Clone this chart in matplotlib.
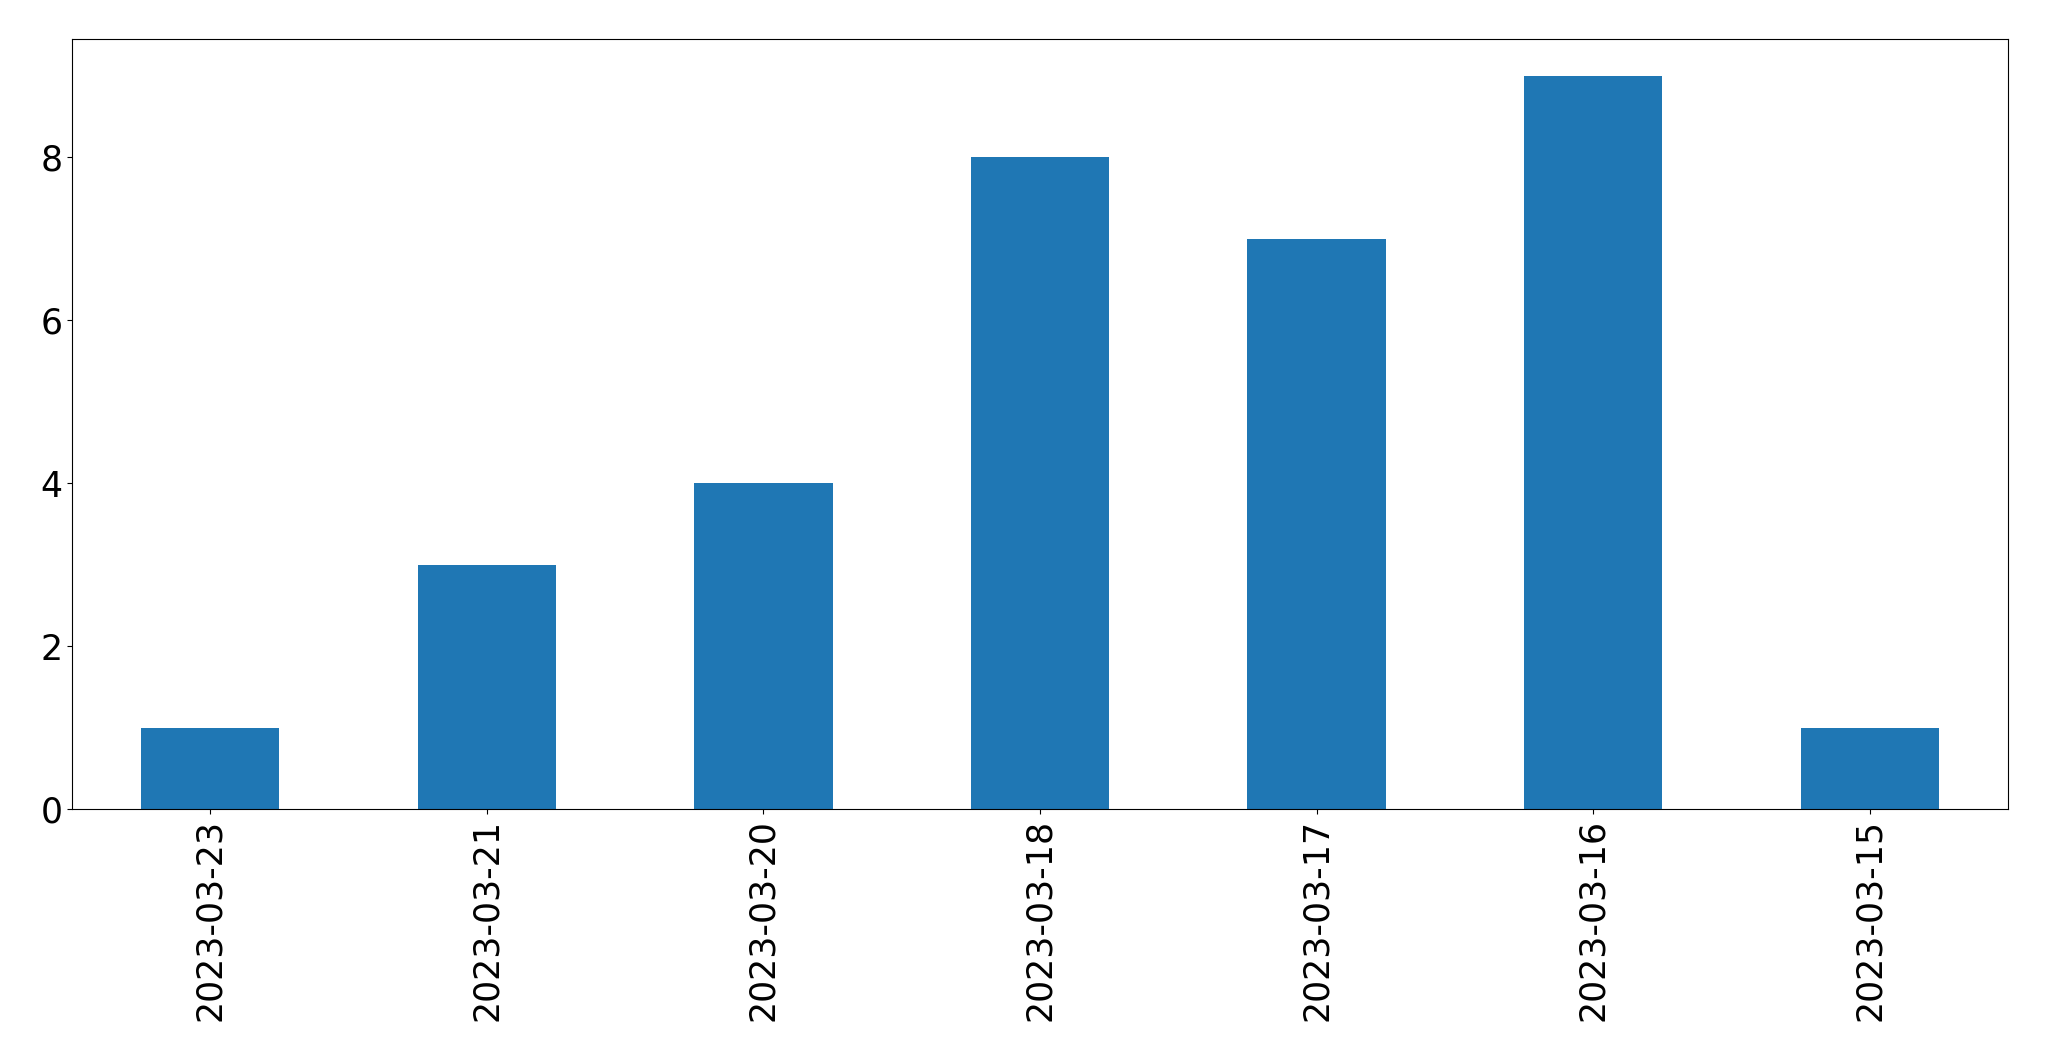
import pandas as pd
import matplotlib.pyplot as plt

dates = ["2023-03-23", "2023-03-21", "2023-03-20", "2023-03-18",
         "2023-03-17", "2023-03-16", "2023-03-15"]
counts = [1, 3, 4, 8, 7, 9, 1]

s = pd.Series(counts, index=dates)

fig = plt.figure(figsize=(20.49, 10.61), dpi=100)
ax = fig.add_axes([72 / 2049, 1 - 809 / 1061, (2008 - 72) / 2049, (809 - 39) / 1061])
s.plot(kind="bar", ax=ax, color="#1f77b4")
ax.tick_params(axis="both", labelsize=25)

fig.savefig("out.png", dpi=100)
